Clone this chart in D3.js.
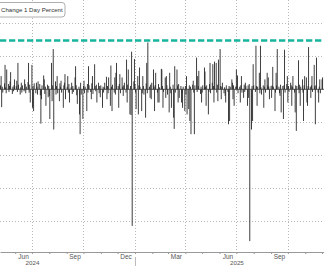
<!DOCTYPE html>
<html>
<head>
<meta charset="utf-8">
<script src="https://cdn.jsdelivr.net/npm/d3@7"></script>
<style>
  html, body { margin: 0; padding: 0; background: #fff; }
  svg { display: block; font-family: "Liberation Sans", Arial, sans-serif; }
</style>
</head>
<body>
<div id="chart"></div>
<script>
// one day change in percent, one value per trading day, grouped by month
const may24 = [0.6, 2.0, -2.7, 0.4, -0.5, 0.9, 3.7, 0.3, -0.6, 3.0, 0.8, -0.4, 0.5, 1.2, 2.6, -0.7, 0.4, -0.3, 0.6, 1.5];
const jun24 = [0.5, 1.3, -0.4, 4.0, 0.7, -0.8, 0.3, 1.0, -0.5, 0.6, -0.3, 1.5, 0.8, -0.6, 0.4, 1.1, 4.0, -0.5, 0.7, -2.0];
const jul24 = [3.7, -2.8, 0.5, -3.3, 0.9, -0.6, 1.0, 0.4, -0.8, 1.2, 0.8, -0.9, -5.2, -1.5, 0.6, 2.1, 1.5, -0.7, 0.4, -2.5, 0.7, -1.2, 0.5];
const aug24 = [-1.0, -4.5, 4.0, -1.8, 0.6, 6.1, -6.1, 1.2, -0.8, 0.5, 2.0, -0.6, -1.8, 0.9, 0.4, 1.3, -0.5, -2.8, 0.6, 1.0, 2.3, -1.5];
const sep24 = [0.4, 2.0, -0.5, 0.8, -2.0, 0.3, 1.0, -0.7, 0.5, -0.4, 1.8, 3.5, 0.6, -0.9, -2.2, 0.4, -3.8, -6.8, 1.0, -0.8, -4.5];
const oct24 = [0.5, 1.3, -0.6, 0.4, -3.3, 0.8, -0.5, 3.5, 0.6, -0.4, -1.5, 0.9, 2.0, -0.7, 3.8, 0.5, -0.3, 0.7, -2.0, 1.0, -0.6, 0.5, -1.2];
const nov24 = [0.6, -2.8, 0.4, -0.5, 0.3, 1.0, 1.9, -1.5, 0.5, -0.6, 1.8, -2.5, 3.6, 0.4, -3.3, 0.7, -0.5, 1.8, -0.8, 2.5, 4.0];
const dec24 = [0.5, -2.8, 0.8, 2.3, -0.6, 1.8, 0.4, -1.0, 0.6, 1.0, -0.5, 4.5, -2.0, 0.7, 3.0, -3.8, 0.5, -3.9, 5.7, -20.7, 1.2, 4.6];
const jan25 = [0.8, -0.5, -3.0, 2.0, -3.8, 0.6, 3.3, 0.4, -3.3, -0.6, 2.0, 0.5, -0.8, -4.3, 0.9, 4.0, -0.6, 7.1, 0.4, -1.3, 0.7, -1.5, 1.0];
const feb25 = [3.0, 0.4, -3.3, 0.6, 2.5, -0.5, -2.0, 0.8, -2.0, 0.3, 3.1, 3.0, 0.5, -2.8, -0.4, 1.8, -1.3, 2.0, 0.6, -0.8];
const mar25 = [-3.5, 2.5, 0.4, -0.6, -2.8, 0.7, -4.3, -6.0, 3.5, -0.5, 3.0, 0.6, -2.0, 0.8, -1.3, 0.5, -2.0, -0.6, -2.8, 0.4, -3.3];
const apr25 = [0.5, -0.8, 2.0, -3.8, -3.0, 0.6, -4.8, 0.4, -6.8, 0.7, 1.3, -0.5, -6.8, 0.6, 4.8, -0.4, 2.0, 0.5, 2.8, -0.7, 0.4, -2.0];
const may25 = [-0.5, 0.6, 3.3, 2.7, 0.4, -2.5, 0.6, -3.8, -0.4, 0.8, 4.0, -0.6, 1.0, 3.8, 0.5, -2.0, 4.2, 4.0, -0.5, 0.7, -1.8, 4.5];
const jun25 = [6.1, 0.5, -1.5, 0.4, 1.0, -0.6, 0.3, -1.0, -2.0, 0.6, -0.4, -5.3, 0.5, -4.8, 0.4, 1.5, 1.0, -1.5, 0.6, -2.5, 0.4];
const jul25 = [3.0, 0.5, 2.1, -0.6, 0.4, -2.0, 0.6, 2.0, -0.5, -1.3, 0.7, -0.4, 1.0, 0.5, -2.5, 0.6, -1.3, 0.8, -23.0, -6.1, 0.5, -4.8, 3.8];
const aug25 = [0.6, -0.4, 6.6, 0.5, -2.5, 0.4, 2.5, -0.6, 6.6, 0.3, -0.8, 0.6, -2.8, 0.4, 1.5, -0.5, 2.5, 0.6, 1.8, 0.4, -1.5];
const sep25 = [0.5, -1.3, 0.6, 3.4, 0.4, -3.3, -0.5, 2.5, 0.6, 6.1, 0.4, -0.6, -1.0, 0.7, -3.5, 0.5, -4.5, 0.6, 6.0, -0.5, 0.8, 2.0];
const oct25 = [-2.0, 0.5, -0.4, 1.0, 0.6, -2.5, 0.4, 2.0, -0.5, -3.5, 0.6, -6.3, 0.5, 4.4, -0.6, 0.7, -2.5, 0.4, 1.5, -0.5, -4.8, 0.6, 2.0];
const nov25 = [1.8, -2.0, -2.5, 0.5, 6.4, 0.4, -1.3, 0.6, 2.0, -0.4, 3.7, 0.5, -5.3, 0.6, 4.8, -0.5, -2.0, 0.4, 1.5, -0.6];
const dec25 = [1.5, 1.8];

// first trading day of each block
const blocks = [
    ["2024-05-06", may24], ["2024-06-03", jun24], ["2024-07-01", jul24], ["2024-08-01", aug24],
    ["2024-09-02", sep24], ["2024-10-01", oct24], ["2024-11-01", nov24], ["2024-12-02", dec24],
    ["2025-01-01", jan25], ["2025-02-03", feb25], ["2025-03-03", mar25], ["2025-04-01", apr25],
    ["2025-05-01", may25], ["2025-06-02", jun25], ["2025-07-01", jul25], ["2025-08-01", aug25],
    ["2025-09-01", sep25], ["2025-10-01", oct25], ["2025-11-03", nov25], ["2025-12-01", dec25]
];

const threshold = 7.4;
const yGrid = [10, 5, -5, -10, -15, -20];
const gridMonths = ["2024-07-01", "2024-10-01", "2025-01-01", "2025-04-01", "2025-07-01", "2025-10-01"];
const monthLabels = [["2024-06", "Jun"], ["2024-09", "Sep"], ["2024-12", "Dec"], ["2025-03", "Mar"], ["2025-06", "Jun"], ["2025-09", "Sep"]];
const yearLabels = ["2024", "2025"];
const legendLabel = "Change 1 Day Percent";

const parse = d3.timeParse("%Y-%m-%d");

// spread each month's values over its weekdays
const data = [];
blocks.forEach(([start, values]) => {
    const d0 = parse(start);
    const days = d3.timeDay.range(d0, d3.timeMonth.offset(d3.timeMonth.floor(d0), 1))
        .filter(d => d.getDay() !== 0 && d.getDay() !== 6);
    values.forEach((v, i) => data.push({ date: days[i], value: v }));
});

const width = 324;
const height = 266;
const axisY = 252;

const svg = d3.select("#chart")
    .append("svg")
    .attr("width", width)
    .attr("height", height);

const x = d3.scaleTime()
    .domain([new Date(2024, 4, 5), new Date(2025, 11, 4, 12)])
    .range([0, width]);

const y = d3.scaleLinear()
    .domain([-24.65, 13.53])
    .range([axisY, 0]);

//gridlines
svg.append("g")
    .selectAll("line")
    .data(yGrid)
    .join("line")
    .attr("x1", 0)
    .attr("x2", width)
    .attr("y1", d => Math.round(y(d)) + 0.5)
    .attr("y2", d => Math.round(y(d)) + 0.5)
    .attr("stroke", "#b8b8b8")
    .attr("stroke-dasharray", "1,2");

svg.append("g")
    .selectAll("line")
    .data(gridMonths.map(parse))
    .join("line")
    .attr("x1", d => Math.round(x(d)) + 0.5)
    .attr("x2", d => Math.round(x(d)) + 0.5)
    .attr("y1", 0)
    .attr("y2", axisY)
    .attr("stroke", "#b8b8b8")
    .attr("stroke-dasharray", "1,2");

// threshold line
svg.append("line")
    .attr("x1", 0)
    .attr("x2", width)
    .attr("y1", y(threshold))
    .attr("y2", y(threshold))
    .attr("stroke", "#17b59e")
    .attr("stroke-width", 2.5)
    .attr("stroke-dasharray", "6.3,2.7");

// zero line
svg.append("line")
    .attr("x1", 0)
    .attr("x2", width)
    .attr("y1", y(0))
    .attr("y2", y(0))
    .attr("stroke", "#333")
    .attr("stroke-width", 0.8);

// bars
svg.append("g")
    .selectAll("rect")
    .data(data)
    .join("rect")
    .attr("x", d => x(d.date) - 0.45)
    .attr("width", 0.9)
    .attr("y", d => y(Math.max(0, d.value)))
    .attr("height", d => Math.abs(y(d.value) - y(0)))
    .attr("fill", "#2a2a2a");

// x axis: month ticks
const xAxis = g => g
    .attr("transform", `translate(0,${axisY})`)
    .call(d3.axisBottom(x)
        .tickValues(d3.timeMonth.range(new Date(2024, 4, 1), new Date(2025, 11, 5)))
        .tickFormat("")
        .tickSize(2)
        .tickSizeOuter(0))
    .call(g => g.select(".domain").attr("stroke", "#999"))
    .call(g => g.selectAll(".tick line").attr("stroke", "#999"));

svg.append("g").call(xAxis);

// month labels sit in the middle of the month
svg.append("g")
    .selectAll("text")
    .data(monthLabels)
    .join("text")
    .attr("x", d => x(d3.timeDay.offset(d3.timeParse("%Y-%m")(d[0]), 15)))
    .attr("y", axisY + 6.6)
    .attr("text-anchor", "middle")
    .attr("font-size", 6.5)
    .attr("fill", "#555")
    .text(d => d[1]);

svg.append("g")
    .selectAll("text")
    .data(yearLabels)
    .join("text")
    .attr("x", d => x(new Date(+d, 6, 2)))
    .attr("y", axisY + 13.4)
    .attr("text-anchor", "middle")
    .attr("font-size", 6.2)
    .attr("fill", "#555")
    .text(d => d);

// year separator
svg.append("line")
    .attr("x1", Math.round(x(new Date(2025, 0, 1))) + 0.5)
    .attr("x2", Math.round(x(new Date(2025, 0, 1))) + 0.5)
    .attr("y1", axisY + 5)
    .attr("y2", height)
    .attr("stroke", "#bbb");

// legend
const legend = svg.append("g");
legend.append("rect")
    .attr("x", -4)
    .attr("y", 2.5)
    .attr("width", 69)
    .attr("height", 14.5)
    .attr("rx", 3)
    .attr("fill", "#fff")
    .attr("stroke", "#999")
    .attr("stroke-width", 0.8);
legend.append("text")
    .attr("x", 1)
    .attr("y", 12.2)
    .attr("font-size", 6.1)
    .attr("fill", "#333")
    .text(legendLabel);
</script>
</body>
</html>
